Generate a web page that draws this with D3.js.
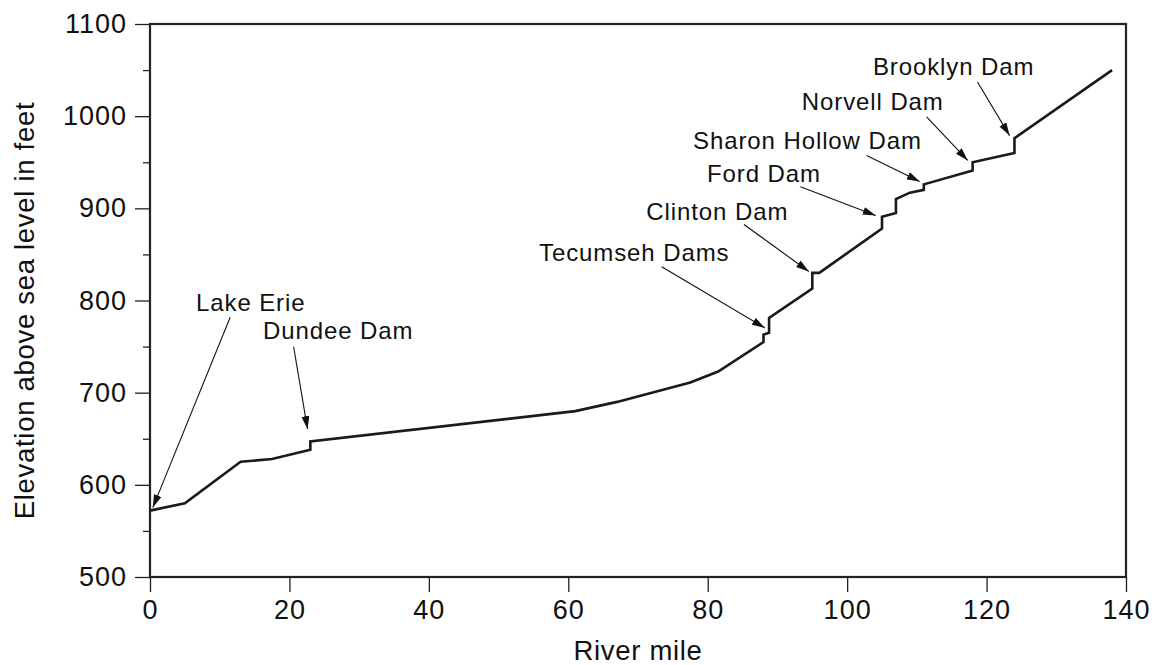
<!DOCTYPE html>
<html lang="en">
    <head>
        <meta charset="utf-8">
        <title>River profile</title>
        <style>
            body { margin: 0; background: #fff; }
            text { font-family: "Liberation Sans", Arial, Helvetica, sans-serif; fill: #111; }
            .tick text { font-size: 27px; letter-spacing: 1px; }
            .tick line { stroke: #222; stroke-width: 1.3px; }
            .title { font-size: 27.5px; letter-spacing: 0.7px; }
            .note { font-size: 24px; letter-spacing: 0.9px; }
            .frame { fill: none; stroke: #222; stroke-width: 2.2px; }
            .profile { fill: none; stroke: #1a1a1a; stroke-width: 2.6px; stroke-linejoin: miter; }
            .pointer { stroke: #111; stroke-width: 1.1px; }
        </style>
    </head>
    <body>
        <script src="https://cdn.jsdelivr.net/npm/d3@7"></script>
        <div id="visualization"></div>
        <script>

            // river profile: river mile vs. elevation (ft)
            var riverMile = [0, 5, 13, 17.5, 23, 23, 61, 67, 77.5, 81.5, 88, 88, 88.8, 88.8, 95, 95, 96,
                             105, 105, 107, 107, 109, 111, 111, 118, 118, 124, 124, 138];
            var elevation = [572, 580, 625, 628, 638, 647, 680, 690, 711, 723, 755, 763, 765, 781, 813, 830, 830,
                             878, 891, 895, 910, 917, 920, 926, 941, 950, 960, 976, 1050];

            var xTicks = [0, 20, 40, 60, 80, 100, 120, 140];
            var yTicks = [500, 600, 700, 800, 900, 1000, 1100];
            var yMinorTicks = [550, 650, 750, 850, 950, 1050];

            // annotations: label anchor (left, baseline), pointer tail and tip, in data units
            var noteText = ["Lake Erie", "Dundee Dam", "Tecumseh Dams", "Clinton Dam", "Ford Dam",
                            "Sharon Hollow Dam", "Norvell Dam", "Brooklyn Dam"];
            var noteMile = [6.6, 16.2, 55.8, 71.2, 79.9, 77.9, 93.5, 103.7];
            var noteElev = [788.6, 758.2, 843.2, 887.6, 929.1, 964.1, 1006.7, 1044.6];
            var tailMile = [11.5, 20.6, 73.4, 85.2, 93.3, 102.8, 111.4, 118.7];
            var tailElev = [781.8, 749.8, 836.6, 882.5, 923.4, 957.4, 999.1, 1037.0];
            var tipMile = [0.4, 22.6, 88.2, 94.5, 104.1, 110.4, 117.3, 123.3];
            var tipElev = [575.3, 660.5, 770.2, 831.5, 892.2, 929.2, 952.0, 978.9];

            var margin = {top: 24, right: 31, bottom: 88, left: 150};
            var width = 1157 - margin.left - margin.right;
            var height = 665 - margin.top - margin.bottom;

            var svg = d3.select("#visualization").append("svg")
                        .attr("width", 1157)
                        .attr("height", 665);

            var defs = svg.append("defs");
            defs.append("marker")
                .attr("id", "head")
                .attr("markerUnits", "userSpaceOnUse")
                .attr("viewBox", "0 0 13 8")
                .attr("refX", 13)
                .attr("refY", 4)
                .attr("markerWidth", 13)
                .attr("markerHeight", 8)
                .attr("orient", "auto")
                .append("path")
                .attr("d", "M0,0 L13,4 L0,8 Z")
                .attr("fill", "#111");

            var g = svg.append("g")
                       .attr("transform", "translate(" + margin.left + "," + margin.top + ")");

            var x = d3.scaleLinear().domain([0, 140]).range([0, width]);
            var y = d3.scaleLinear().domain([500, 1100]).range([height, 0]);

            // axes
            g.append("g")
             .attr("transform", "translate(0," + height + ")")
             .call(d3.axisBottom(x).tickValues(xTicks).tickSize(15).tickSizeOuter(0).tickPadding(8)
                     .tickFormat(d3.format("d")));

            g.append("g")
             .call(d3.axisLeft(y).tickValues(yTicks).tickSize(15).tickSizeOuter(0).tickPadding(8)
                     .tickFormat(d3.format("d")));

            g.append("g")
             .call(d3.axisLeft(y).tickValues(yMinorTicks).tickSize(7).tickSizeOuter(0).tickFormat(""));

            g.selectAll(".domain").remove();
            g.selectAll(".tick text").attr("fill", "#111");

            // frame
            g.append("rect")
             .attr("class", "frame")
             .attr("x", 0)
             .attr("y", 0)
             .attr("width", width)
             .attr("height", height);

            // profile line
            var pts = riverMile.map(function(m, i) { return [m, elevation[i]]; });
            var line = d3.line()
                         .x(function(d) { return x(d[0]); })
                         .y(function(d) { return y(d[1]); });

            g.append("path")
             .datum(pts)
             .attr("class", "profile")
             .attr("d", line);

            // annotations
            noteText.forEach(function(t, i) {
                g.append("line")
                 .attr("class", "pointer")
                 .attr("x1", x(tailMile[i]))
                 .attr("y1", y(tailElev[i]))
                 .attr("x2", x(tipMile[i]))
                 .attr("y2", y(tipElev[i]))
                 .attr("marker-end", "url(#head)");

                g.append("text")
                 .attr("class", "note")
                 .attr("x", x(noteMile[i]))
                 .attr("y", y(noteElev[i]))
                 .text(t);
            });

            // axis titles
            g.append("text")
             .attr("class", "title")
             .attr("x", width / 2)
             .attr("y", height + 83)
             .style("text-anchor", "middle")
             .text("River mile");

            g.append("text")
             .attr("class", "title")
             .attr("transform", "rotate(-90)")
             .attr("x", -(height / 2) - 10)
             .attr("y", -116)
             .style("text-anchor", "middle")
             .text("Elevation above sea level in feet");

        </script>
    </body>
</html>
